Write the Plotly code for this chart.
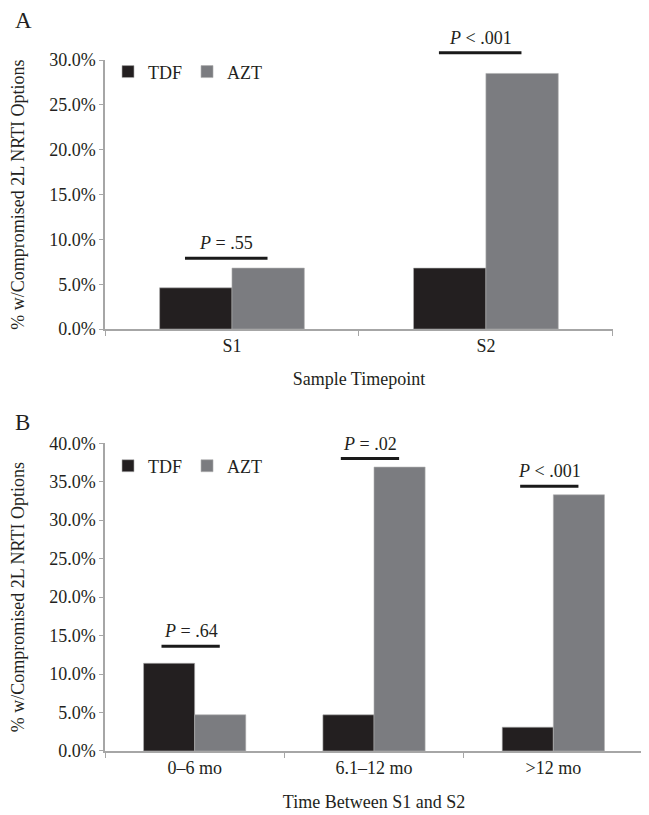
import plotly.graph_objects as go

# ---------------- data ----------------
series_names = ["TDF", "AZT"]
series_colors = ["#231f20", "#7b7c80"]

a_categories = ["S1", "S2"]
a_tdf = [4.6, 6.8]
a_azt = [6.8, 28.5]
a_p_text = ["<i>P</i> = .55", "<i>P</i> < .001"]
a_p_level = [7.9, 30.8]
a_ymax = 30

b_categories = ["0–6 mo", "6.1–12 mo", ">12 mo"]
b_tdf = [11.4, 4.7, 3.1]
b_azt = [4.7, 36.9, 33.3]
b_p_text = ["<i>P</i> = .64", "<i>P</i> = .02", "<i>P</i> < .001"]
b_p_level = [13.6, 38.0, 34.4]
b_ymax = 40

y_title = "% w/Compromised 2L NRTI Options"
a_x_title = "Sample Timepoint"
b_x_title = "Time Between S1 and S2"

# ---------------- style ----------------
FONT = "Liberation Serif, Times New Roman, serif"
TXT = "#231f20"
AX = "#a6a6a6"
FS = 18
P_LEFT, P_RIGHT = -0.185, 0.14

fig = go.Figure()

for vals, name, col in zip([a_tdf, a_azt], series_names, series_colors):
    fig.add_trace(go.Bar(x=a_categories, y=vals, name=name, marker_color=col,
                         marker_line=dict(color="#b0b0b0", width=0.6),
                         xaxis="x", yaxis="y", legend="legend"))
for vals, name, col in zip([b_tdf, b_azt], series_names, series_colors):
    fig.add_trace(go.Bar(x=b_categories, y=vals, name=name, marker_color=col,
                         marker_line=dict(color="#b0b0b0", width=0.6),
                         xaxis="x2", yaxis="y2", legend="legend2"))

shapes = []
annotations = []


def add_p(cats, texts, levels, ymax, xr, yr):
    n = len(cats)
    for i, (t, lv) in enumerate(zip(texts, levels)):
        x0 = (i + 0.5 + P_LEFT) / n
        x1 = (i + 0.5 + P_RIGHT) / n
        yy = lv / ymax
        shapes.append(dict(type="line", xref=xr + " domain", yref=yr + " domain",
                           x0=x0, x1=x1, y0=yy, y1=yy,
                           line=dict(color="#1a1a1a", width=3)))
        annotations.append(dict(text=t, xref=xr + " domain", yref=yr + " domain",
                                x=(x0 + x1) / 2, y=yy, xanchor="center",
                                yanchor="bottom", yshift=3, showarrow=False,
                                font=dict(family=FONT, size=FS, color=TXT)))


add_p(a_categories, a_p_text, a_p_level, a_ymax, "x", "y")
add_p(b_categories, b_p_text, b_p_level, b_ymax, "x2", "y2")

annotations.append(dict(text="A", xref="paper", yref="paper", x=-0.171, y=1.0575,
                        xanchor="left", yanchor="middle", showarrow=False,
                        font=dict(family=FONT, size=23, color=TXT)))
annotations.append(dict(text="B", xref="paper", yref="paper", x=-0.171, y=0.4756,
                        xanchor="left", yanchor="middle", showarrow=False,
                        font=dict(family=FONT, size=23, color=TXT)))

yax_common = dict(showline=True, linecolor=AX, linewidth=1.5, ticks="outside",
                  ticklen=4, tickcolor=AX, showgrid=False, zeroline=False,
                  dtick=5, tickformat=".1f", ticksuffix="%",
                  tickfont=dict(family=FONT, size=FS, color=TXT),
                  title=dict(text=y_title, font=dict(family=FONT, size=FS, color=TXT),
                             standoff=22))
xax_common = dict(showline=True, linecolor=AX, linewidth=1.5, ticks="outside",
                  ticklen=5, tickcolor=AX, tickson="boundaries", showgrid=False,
                  tickfont=dict(family=FONT, size=FS, color=TXT))

# the page body adds an 8px offset; the figure is sized to fill the rest
fig.update_layout(
    width=641, height=807,
    margin=dict(l=97, r=6, t=52, b=59),
    paper_bgcolor="white", plot_bgcolor="white",
    font=dict(family=FONT, size=FS, color=TXT),
    barmode="group", bargap=0.43, bargroupgap=0,
    xaxis=dict(domain=[0, 0.944], anchor="y", **xax_common,
               title=dict(text=a_x_title, font=dict(family=FONT, size=FS, color=TXT),
                          standoff=17)),
    yaxis=dict(domain=[0.6106, 1], anchor="x", range=[0, a_ymax], **yax_common),
    xaxis2=dict(domain=[0, 1], anchor="y2", **xax_common,
                title=dict(text=b_x_title, font=dict(family=FONT, size=FS, color=TXT),
                           standoff=18)),
    yaxis2=dict(domain=[0, 0.4454], anchor="x2", range=[0, b_ymax], **yax_common),
    legend=dict(orientation="h", x=0.0056, y=0.9828, xanchor="left", yanchor="middle",
                font=dict(family=FONT, size=FS, color=TXT), bgcolor="rgba(0,0,0,0)"),
    legend2=dict(orientation="h", x=0.0056, y=0.4124, xanchor="left", yanchor="middle",
                 font=dict(family=FONT, size=FS, color=TXT), bgcolor="rgba(0,0,0,0)"),
    shapes=shapes, annotations=annotations,
    showlegend=True,
)

fig.write_html("out.html")
